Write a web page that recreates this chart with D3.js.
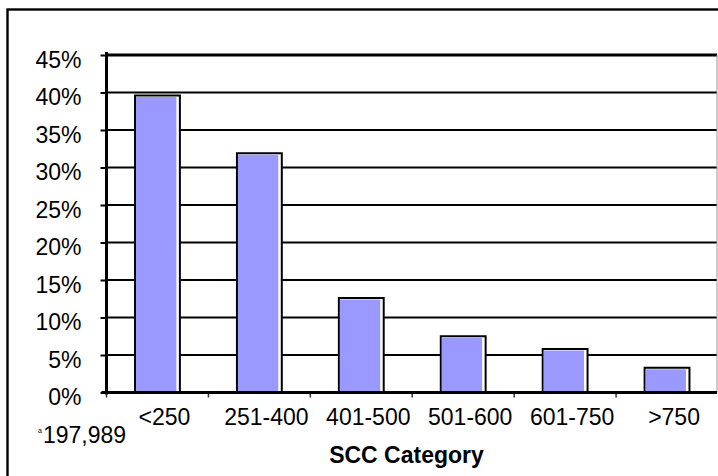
<!DOCTYPE html>
<html>
<head>
<meta charset="utf-8">
<script src="https://cdn.jsdelivr.net/npm/d3@7"></script>
<style>
  body { margin: 0; background: #fff; }
  text { font-family: "Liberation Sans", Arial, sans-serif; fill: #000; }
</style>
</head>
<body>
<svg id="chart" width="718" height="476"></svg>
<script>
const categories = ['<250', '251-400', '401-500', '501-600', '601-750', '>750'];
const shares = [39.6, 31.9, 12.6, 7.5, 5.8, 3.3];
const yTicks = [0, 5, 10, 15, 20, 25, 30, 35, 40, 45];

const svg = d3.select('#chart');
const plotLeft = 106.5, plotRight = 717, plotTop = 55, plotBottom = 392.5;

const x = d3.scaleBand()
      .domain(categories)
      .range([plotLeft, plotRight + 1])
      .paddingInner(0.56)
      .paddingOuter(0.28);

const y = d3.scaleLinear()
      .domain([0, 45])
      .range([plotBottom, plotTop]);

// outer frame
svg.append('rect')
   .attr('x', 7.5).attr('y', 9.5)
   .attr('width', 740).attr('height', 490)
   .attr('fill', 'none').attr('stroke', '#000').attr('stroke-width', 2.4);

// gridlines
svg.append('g')
   .selectAll('line')
   .data(yTicks.filter(t => t > 0 && t < 45))
   .enter().append('line')
   .attr('x1', plotLeft).attr('x2', plotRight)
   .attr('y1', d => y(d)).attr('y2', d => y(d))
   .attr('stroke', '#000').attr('stroke-width', 2);

// plot top border and right edge
svg.append('line')
   .attr('x1', plotLeft).attr('x2', plotRight)
   .attr('y1', y(45)).attr('y2', y(45))
   .attr('stroke', '#000').attr('stroke-width', 3);
svg.append('line')
   .attr('x1', plotRight).attr('x2', plotRight)
   .attr('y1', y(45)).attr('y2', plotBottom)
   .attr('stroke', '#999').attr('stroke-width', 1);

// bars: black outline, white sliver on the right, lavender fill
const bars = svg.append('g')
      .selectAll('g')
      .data(categories)
      .enter().append('g');

bars.append('rect')
    .attr('x', d => x(d))
    .attr('y', (d, i) => y(shares[i]))
    .attr('width', x.bandwidth())
    .attr('height', (d, i) => plotBottom - y(shares[i]))
    .attr('fill', '#fff')
    .attr('stroke', '#000')
    .attr('stroke-width', 2);

bars.append('rect')
    .attr('x', d => x(d) + 1)
    .attr('y', (d, i) => y(shares[i]) + 1.5)
    .attr('width', x.bandwidth() - 4.5)
    .attr('height', (d, i) => plotBottom - y(shares[i]) - 1.5)
    .attr('fill', '#9999ff');

// y axis
const yAxis = svg.append('g')
      .attr('transform', `translate(${plotLeft},0)`)
      .call(d3.axisLeft(y)
              .tickValues(yTicks)
              .tickSize(6)
              .tickPadding(19)
              .tickFormat(d => d + '%'));
yAxis.select('.domain').remove();
yAxis.selectAll('line').attr('stroke-width', 2);
yAxis.selectAll('text')
     .attr('dy', '12px')
     .style('font-size', '23px');

svg.append('line')
   .attr('x1', plotLeft).attr('x2', plotLeft)
   .attr('y1', plotTop - 3).attr('y2', plotBottom + 2)
   .attr('stroke', '#000').attr('stroke-width', 3);

// x axis labels
const xAxis = svg.append('g')
      .attr('transform', `translate(7,${plotBottom})`)
      .call(d3.axisBottom(x).tickSize(0).tickPadding(0));
xAxis.select('.domain').remove();
xAxis.selectAll('text')
     .attr('y', 32.5)
     .attr('dy', 0)
     .style('font-size', '23px');

// category boundary ticks
const step = x.step();
svg.append('g')
   .selectAll('line')
   .data(categories)
   .enter().append('line')
   .attr('x1', d => x(d) - (step - x.bandwidth()) / 2)
   .attr('x2', d => x(d) - (step - x.bandwidth()) / 2)
   .attr('y1', plotBottom).attr('y2', plotBottom + 5)
   .attr('stroke', '#333').attr('stroke-width', 1.5);

svg.append('line')
   .attr('x1', plotLeft - 5).attr('x2', plotRight)
   .attr('y1', plotBottom).attr('y2', plotBottom)
   .attr('stroke', '#000').attr('stroke-width', 3);

// axis title
svg.append('text')
   .attr('x', 406.5).attr('y', 463)
   .attr('text-anchor', 'middle')
   .style('font-size', '23px')
   .style('font-weight', 'bold')
   .text('SCC Category');

// sample size note
svg.append('text')
   .attr('x', 38).attr('y', 433)
   .style('font-size', '7px')
   .text('a');
svg.append('text')
   .attr('x', 43).attr('y', 442.5)
   .style('font-size', '23px')
   .text('197,989');
</script>
</body>
</html>
